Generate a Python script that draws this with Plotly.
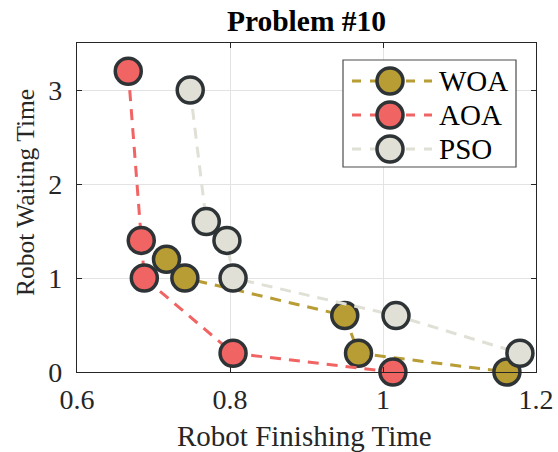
import plotly.graph_objects as go

# ---- data ----
series_names = ["WOA", "AOA", "PSO"]
woa_x = [0.717, 0.741, 0.950, 0.968, 1.162]
woa_y = [1.2, 1.0, 0.6, 0.2, 0.0]
aoa_x = [0.667, 0.684, 0.688, 0.804, 1.013]
aoa_y = [3.2, 1.4, 1.0, 0.2, 0.0]
pso_x = [0.748, 0.769, 0.796, 0.804, 1.017, 1.179]
pso_y = [3.0, 1.6, 1.4, 1.0, 0.6, 0.2]
x_ticks = [0.6, 0.8, 1.0, 1.2]
x_tick_labels = ["0.6", "0.8", "1", "1.2"]
y_ticks = [0, 1, 2, 3]
y_tick_labels = ["0", "1", "2", "3"]

colors = ["#B89C34", "#F06464", "#E0E0D6"]
edge = "#2E3336"
FONT = "Liberation Serif, Times New Roman, serif"

W, H = 558, 452
ML, MR, MT, MB = 77, 22, 43, 80
PW, PH = W - ML - MR, H - MT - MB


def px2x(px):
    return (px - ML) / PW


def py2y(py):
    return (H - MB - py) / PH


fig = go.Figure()
for name, xs, ys, c in zip(series_names, [woa_x, aoa_x, pso_x], [woa_y, aoa_y, pso_y], colors):
    fig.add_trace(go.Scatter(
        x=xs, y=ys, name=name, mode="lines+markers",
        line=dict(color=c, width=3, dash="11px,8px"),
        marker=dict(size=26, color=c, line=dict(color=edge, width=3.5)),
        cliponaxis=False, showlegend=False,
    ))

axis_common = dict(
    showline=True, linecolor="#262626", linewidth=1.3, mirror="allticks",
    ticks="inside", ticklen=5, tickwidth=1.3, tickcolor="#262626",
    showgrid=True, gridcolor="#E3E3E3", gridwidth=1, zeroline=False,
    tickfont=dict(family=FONT, size=28, color="#262626"),
    automargin=False,
)

fig.update_xaxes(range=[0.6, 1.2], tickvals=x_ticks, ticktext=x_tick_labels,
                 ticklabelstandoff=2, **axis_common)
fig.update_yaxes(range=[0, 3.5], tickvals=y_ticks, ticktext=y_tick_labels,
                 ticklabelstandoff=8, **axis_common)

# ---- custom legend (large markers like the reference) ----
shapes = [dict(type="rect", xref="paper", yref="paper", layer="above",
               x0=px2x(343), x1=px2x(516), y0=py2y(167), y1=py2y(60),
               line=dict(color="#4D4D4D", width=1.2), fillcolor="white")]
annotations = [
    dict(xref="paper", yref="paper", x=px2x(304.5), y=py2y(436),
         xanchor="center", yanchor="middle", showarrow=False, borderpad=0,
         text="Robot Finishing Time", font=dict(family=FONT, size=29, color="#262626")),
    dict(xref="paper", yref="paper", x=px2x(25), y=py2y(193),
         xanchor="center", yanchor="middle", showarrow=False, textangle=-90, borderpad=0,
         text="Robot Waiting Time", font=dict(family=FONT, size=25.5, color="#262626")),
]
row_y = [81, 115, 149]
for name, c, ry in zip(series_names, colors, row_y):
    shapes.append(dict(type="line", xref="paper", yref="paper", layer="above",
                       x0=px2x(352), x1=px2x(432), y0=py2y(ry), y1=py2y(ry),
                       line=dict(color=c, width=3, dash="9px,9px")))
    shapes.append(dict(type="circle", xref="paper", yref="paper", layer="above",
                       xsizemode="pixel", ysizemode="pixel",
                       xanchor=px2x(390), yanchor=py2y(ry),
                       x0=-13, x1=13, y0=-13, y1=13,
                       fillcolor=c, line=dict(color=edge, width=3.5)))
    annotations.append(dict(xref="paper", yref="paper", x=px2x(437), y=py2y(ry),
                            xanchor="left", yanchor="middle", showarrow=False,
                            text=name, font=dict(family=FONT, size=29, color="black")))

fig.update_layout(
    width=W, height=H, margin=dict(l=ML, r=MR, t=MT, b=MB),
    paper_bgcolor="white", plot_bgcolor="white",
    title=dict(text="<b>Problem #10</b>", x=(ML + PW / 2) / W, xanchor="center",
               y=1 - 21 / H, yanchor="middle", yref="container",
               font=dict(family=FONT, size=29.5, color="black")),
    shapes=shapes, annotations=annotations, showlegend=False,
)

fig.write_html("out.html")
